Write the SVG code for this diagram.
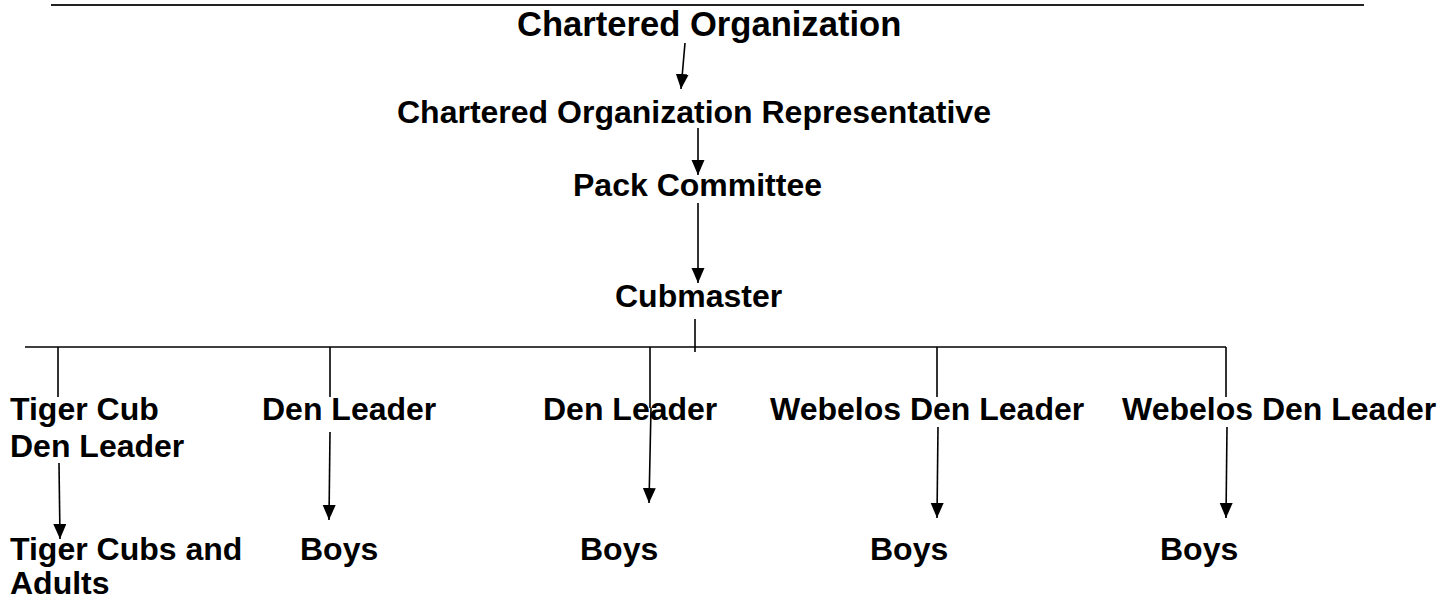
<svg xmlns="http://www.w3.org/2000/svg" width="1450" height="600" viewBox="0 0 1450 600">
<style>
text{font-family:"Liberation Sans",Arial,sans-serif;font-weight:bold;fill:#000;font-size:32px}
.title{font-size:34.6px}
.ln{stroke:#000;stroke-width:1.6;fill:none}
.ar{stroke:#000;stroke-width:1.6;fill:none;marker-end:url(#ah)}
</style>
<defs>
<marker id="ah" markerUnits="userSpaceOnUse" markerWidth="16" markerHeight="14" refX="15" refY="6.5" orient="auto">
<path d="M0,0 L15,6.5 L0,13 z" fill="#000"/>
</marker>
</defs>
<rect width="1450" height="600" fill="#fff"/>
<line x1="51" y1="5" x2="1364" y2="5" stroke="#222" stroke-width="2.2"/>
<g id="connectors">
<line class="ar" x1="685" y1="43" x2="681" y2="89"/>
<line class="ar" x1="698" y1="128" x2="698" y2="175"/>
<line class="ar" x1="698" y1="203" x2="698" y2="283"/>
<line class="ln" x1="695" y1="319" x2="695" y2="352"/>
<line class="ln" x1="25" y1="347" x2="1226" y2="347"/>
<line class="ln" x1="58" y1="347" x2="58" y2="397"/>
<line class="ln" x1="330" y1="347" x2="330" y2="397"/>
<line class="ln" x1="650" y1="347" x2="650" y2="408"/>
<line class="ln" x1="937" y1="347" x2="937" y2="397"/>
<line class="ln" x1="1226" y1="347" x2="1226" y2="397"/>
<line class="ar" x1="59" y1="463" x2="60" y2="539"/>
<line class="ar" x1="330" y1="432" x2="329" y2="520"/>
<line class="ar" x1="651" y1="408" x2="649" y2="503"/>
<line class="ar" x1="938" y1="427" x2="937" y2="518"/>
<line class="ar" x1="1227" y1="427" x2="1226" y2="518"/>
</g>
<g id="chartered-org"><text class="title" x="517" y="36">Chartered Organization</text></g>
<g id="cor"><text x="397" y="123">Chartered Organization Representative</text></g>
<g id="pack-committee"><text x="573" y="196">Pack Committee</text></g>
<g id="cubmaster"><text x="615" y="307">Cubmaster</text></g>
<g id="tiger-leader"><text x="10" y="420">Tiger Cub</text><text x="10" y="457">Den Leader</text></g>
<g id="den-leader-1"><text x="262" y="420">Den Leader</text></g>
<g id="den-leader-2"><text x="543" y="420">Den Leader</text></g>
<g id="webelos-1"><text x="770" y="420">Webelos Den Leader</text></g>
<g id="webelos-2"><text x="1122" y="420">Webelos Den Leader</text></g>
<g id="tiger-cubs"><text x="10" y="560">Tiger Cubs and</text><text x="10" y="594">Adults</text></g>
<g id="boys-1"><text x="300" y="560">Boys</text></g>
<g id="boys-2"><text x="580" y="560">Boys</text></g>
<g id="boys-3"><text x="870" y="560">Boys</text></g>
<g id="boys-4"><text x="1160" y="560">Boys</text></g>
</svg>
